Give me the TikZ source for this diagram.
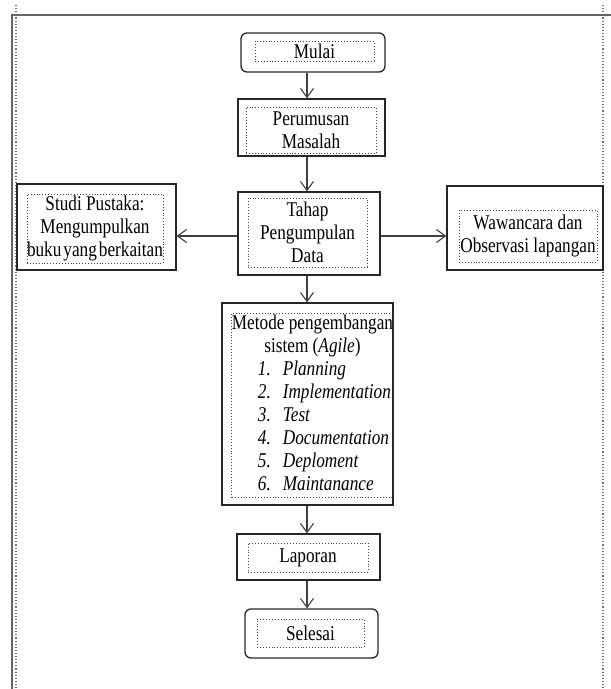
\documentclass[tikz,border=0pt]{standalone}
\usepackage{fontspec}
\setmainfont{Liberation Serif}[FakeStretch=0.82]
\usetikzlibrary{arrows.meta}
\begin{document}
\begin{tikzpicture}[x=1pt, y=-1pt,
  every node/.style={font=\fontsize{21}{23}\selectfont},
  luar/.style={draw=black!85, line width=1.3pt, inner sep=0pt},
  dalam/.style={draw=black!75, dotted, line width=0.9pt, inner sep=0pt, align=center},
  panah/.style={draw=black!75, line width=1.1pt, -{Straight Barb[length=9pt,width=13pt,line width=1.1pt]}}]
\useasboundingbox (0,0) rectangle (611,689);
\draw[black!60, line width=1.6pt] (12,689) -- (12,15) -- (611,15);
\draw[black!55, dotted, line width=1.1pt] (16,5) -- (16,689);
\draw[black!55, dotted, line width=1.1pt] (603,5) -- (603,689);
\coordinate (sumbu) at (307,0);
\coordinate (garis) at (0,236);
\node[luar, rounded corners=6pt, minimum width=144, minimum height=39] (mulai) at (313,52.5) {};
\node[dalam, minimum width=119, minimum height=20] (mulaiIsi) at (314.5,51) {Mulai};
\node[luar, minimum width=147, minimum height=57] (perum) at (311.5,127.5) {};
\node[dalam, minimum width=130, minimum height=46] (perumIsi) at (311,130) {Perumusan\\Masalah};
\node[luar, minimum width=142, minimum height=83] (tahap) at (309,233.5) {};
\node[dalam, minimum width=119, minimum height=69] (tahapIsi) at (307.5,232.5) {Tahap\\Pengumpulan\\Data};
\node[luar, minimum width=159, minimum height=86] (studi) at (96.5,227) {};
\node[dalam, minimum width=136, minimum height=69] (studiIsi) at (95,228.5) {Studi Pustaka:\\Mengumpulkan\\buku\hspace{2pt}yang\hspace{2pt}berkaitan};
\node[luar, minimum width=156, minimum height=84] (wawan) at (525,228) {};
\node[dalam, minimum width=138, minimum height=52] (wawanIsi) at (528,236) {Wawancara dan\\Observasi lapangan};
\node[luar, minimum width=171, minimum height=202] (metode) at (307.5,404) {};
\node[dalam, minimum width=161, minimum height=184] (metodeIsi) at (312.5,405) {%
  \begin{tabular}{@{\hspace{26pt}}l@{\hspace{12pt}}l@{}}
  \multicolumn{2}{@{}c@{}}{Metode pengembangan}\\
  \multicolumn{2}{@{}c@{}}{sistem (\textit{Agile})}\\
  \textit{1.} & \textit{Planning}\\
  \textit{2.} & \textit{Implementation}\\
  \textit{3.} & \textit{Test}\\
  \textit{4.} & \textit{Documentation}\\
  \textit{5.} & \textit{Deploment}\\
  \textit{6.} & \textit{Maintanance}
  \end{tabular}};
\node[luar, minimum width=143, minimum height=46] (laporan) at (308.5,557) {};
\node[dalam, minimum width=120, minimum height=29] (laporanIsi) at (308,557.5) {Laporan};
\node[luar, rounded corners=6pt, minimum width=133, minimum height=49] (selesai) at (311.5,633.5) {};
\node[dalam, minimum width=107, minimum height=28] (selesaiIsi) at (310.5,633) {Selesai};
\draw[panah] (mulai.south -| sumbu) -- (perum.north -| sumbu);
\draw[panah] (perum.south -| sumbu) -- (tahap.north -| sumbu);
\draw[panah] (tahap.west |- garis) -- (studi.east |- garis);
\draw[panah] (tahap.east |- garis) -- (wawan.west |- garis);
\draw[panah] (tahap.south -| sumbu) -- (metode.north -| sumbu);
\draw[panah] (metode.south -| sumbu) -- (laporan.north -| sumbu);
\draw[panah] (laporan.south -| sumbu) -- (selesai.north -| sumbu);
\end{tikzpicture}
\end{document}
